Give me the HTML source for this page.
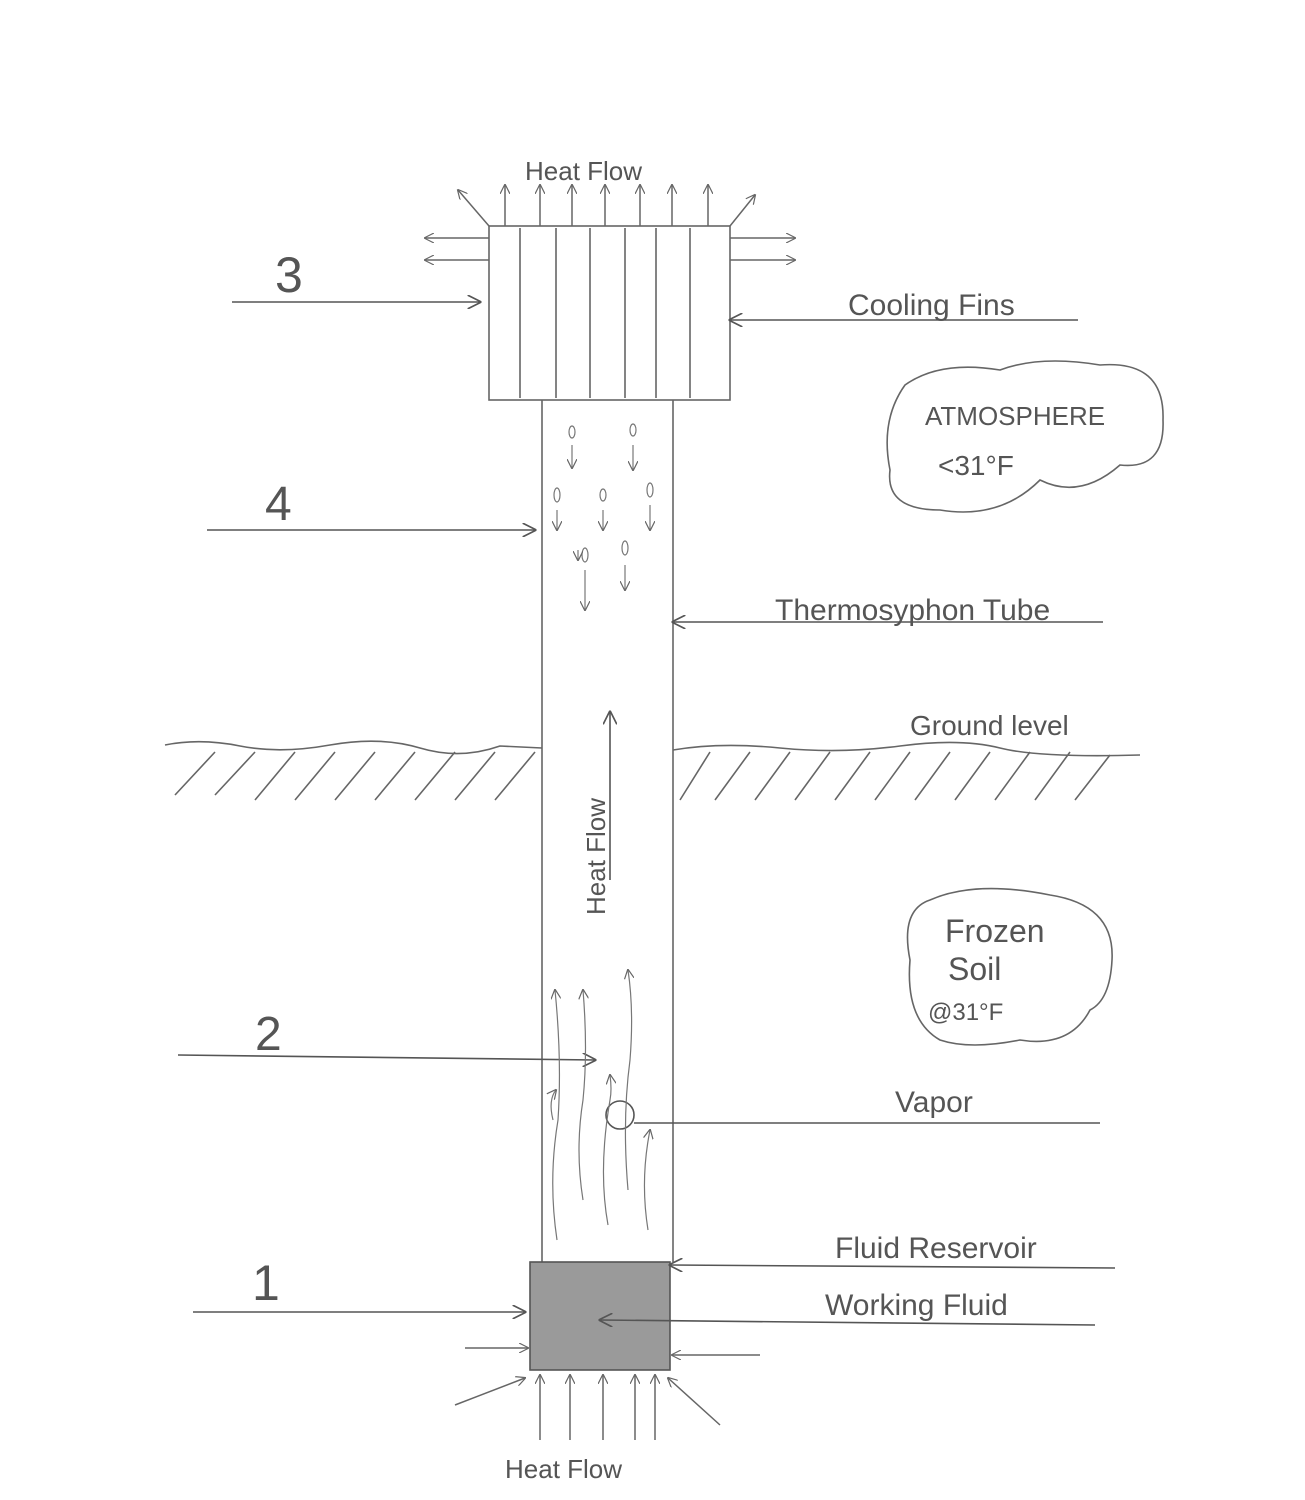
<!DOCTYPE html>
<html><head><meta charset="utf-8"><style>
html,body{margin:0;padding:0;background:#fff}
svg{display:block}
text{font-family:"Liberation Sans",sans-serif;fill:#555}
</style></head><body>
<svg width="1305" height="1500" viewBox="0 0 1305 1500" xmlns="http://www.w3.org/2000/svg">
<defs>
<marker id="a" viewBox="0 0 10 10" refX="9" refY="5" markerWidth="14" markerHeight="14" orient="auto" markerUnits="userSpaceOnUse"><path d="M0,0 L10,5 L0,10" fill="none" stroke="#555" stroke-width="1.2"/></marker>
<marker id="s" viewBox="0 0 10 10" refX="9" refY="5" markerWidth="10" markerHeight="10" orient="auto" markerUnits="userSpaceOnUse"><path d="M0,0 L10,5 L0,10" fill="none" stroke="#666" stroke-width="1.2"/></marker>
</defs>
<g stroke="#666" stroke-width="1.6" fill="none">
<rect x="489" y="226" width="241" height="174"/>
<path d="M520 228V398 M556 228V398 M590 228V398 M625 228V398 M656 228V398 M690 228V398"/>
<path d="M542 400V1262 M673 400V1262"/>
<rect x="530" y="1262" width="140" height="108" fill="#9a9a9a" stroke="#555"/>
<path d="M165 745 Q200 738 240 746 T330 745 T420 748 T500 746 L542 748 M673 750 Q720 742 780 748 T900 746 T1000 748 T1140 755"/>
<path d="M215 752 L175 795 M255 752 L215 795 M295 752 L255 800 M335 752 L295 800 M375 752 L335 800 M415 752 L375 800 M455 752 L415 800 M495 752 L455 800 M535 752 L495 800 M710 752 L680 800 M750 752 L715 800 M790 752 L755 800 M830 752 L795 800 M870 752 L835 800 M910 752 L875 800 M950 752 L915 800 M990 752 L955 800 M1030 752 L995 800 M1070 752 L1035 800 M1110 755 L1075 800"/>
<path d="M905 385 Q940 360 1000 370 Q1040 355 1100 365 Q1165 360 1163 420 Q1165 470 1120 465 Q1080 500 1040 480 Q1000 520 940 510 Q885 510 890 470 Q880 420 905 385Z"/>
<path d="M930 900 Q975 880 1050 895 Q1115 905 1112 960 Q1110 1000 1090 1010 Q1070 1048 1020 1040 Q970 1050 940 1040 Q905 1020 910 960 Q900 910 930 900Z"/>
</g>
<g stroke="#555" stroke-width="1.6" fill="none" marker-end="url(#a)">
<line x1="232" y1="302" x2="480" y2="302"/>
<line x1="1078" y1="320" x2="730" y2="320"/>
<line x1="207" y1="530" x2="535" y2="530"/>
<line x1="1103" y1="622" x2="673" y2="622"/>
<line x1="178" y1="1055" x2="595" y2="1060"/>
<line x1="1115" y1="1268" x2="670" y2="1265"/>
<line x1="1095" y1="1325" x2="600" y2="1320"/>
<line x1="193" y1="1312" x2="525" y2="1312"/>
<line x1="610" y1="880" x2="610" y2="712"/>
</g>
<g stroke="#555" stroke-width="1.6" fill="none">
<path d="M1100 1123H634"/>
<circle cx="620" cy="1115" r="14"/>
</g>
<g stroke="#666" stroke-width="1.5" fill="none" marker-end="url(#s)">
<line x1="505" y1="226" x2="505" y2="185"/>
<line x1="540" y1="226" x2="540" y2="185"/>
<line x1="572" y1="226" x2="572" y2="185"/>
<line x1="605" y1="226" x2="605" y2="185"/>
<line x1="640" y1="226" x2="640" y2="185"/>
<line x1="672" y1="226" x2="672" y2="185"/>
<line x1="708" y1="226" x2="708" y2="185"/>
<line x1="489" y1="226" x2="458" y2="190"/>
<line x1="730" y1="226" x2="755" y2="195"/>
<line x1="489" y1="238" x2="425" y2="238"/>
<line x1="489" y1="260" x2="425" y2="260"/>
<line x1="730" y1="238" x2="795" y2="238"/>
<line x1="730" y1="260" x2="795" y2="260"/>
<line x1="540" y1="1440" x2="540" y2="1375"/>
<line x1="570" y1="1440" x2="570" y2="1375"/>
<line x1="603" y1="1440" x2="603" y2="1375"/>
<line x1="635" y1="1440" x2="635" y2="1375"/>
<line x1="655" y1="1440" x2="655" y2="1375"/>
<line x1="455" y1="1405" x2="525" y2="1378"/>
<line x1="720" y1="1425" x2="668" y2="1378"/>
<line x1="465" y1="1348" x2="528" y2="1348"/>
<line x1="760" y1="1355" x2="672" y2="1355"/>
</g>
<g stroke="#777" stroke-width="1.2" fill="none">
<ellipse cx="572" cy="432" rx="3" ry="6"/><ellipse cx="633" cy="430" rx="3" ry="6"/>
<ellipse cx="557" cy="495" rx="3" ry="7"/><ellipse cx="603" cy="495" rx="3" ry="6"/><ellipse cx="650" cy="490" rx="3" ry="7"/>
<ellipse cx="585" cy="555" rx="3" ry="7"/><ellipse cx="625" cy="548" rx="3" ry="7"/>
</g>
<g stroke="#777" stroke-width="1.2" fill="none" marker-end="url(#s)">
<line x1="572" y1="445" x2="572" y2="468"/>
<line x1="633" y1="445" x2="633" y2="470"/>
<line x1="557" y1="510" x2="557" y2="530"/>
<line x1="603" y1="510" x2="603" y2="530"/>
<line x1="650" y1="505" x2="650" y2="530"/>
<line x1="585" y1="570" x2="585" y2="610"/>
<line x1="625" y1="565" x2="625" y2="590"/>
<line x1="578" y1="550" x2="578" y2="560"/>
<path d="M557 1240 Q548 1180 558 1120 Q562 1060 555 990"/>
<path d="M583 1200 Q575 1150 583 1100 Q588 1050 583 990"/>
<path d="M608 1225 Q598 1170 610 1100 Q612 1090 610 1075"/>
<path d="M628 1190 Q622 1120 630 1060 Q634 1010 628 970"/>
<path d="M553 1120 Q548 1100 556 1090"/>
<path d="M648 1230 Q640 1180 650 1130"/>
</g>
<g font-size="30">
<text x="525" y="180" font-size="26">Heat  Flow</text>
<text x="275" y="292" font-size="50">3</text>
<text x="848" y="315">Cooling Fins</text>
<text x="925" y="425" font-size="26">ATMOSPHERE</text>
<text x="938" y="475" font-size="28">&lt;31°F</text>
<text x="265" y="520" font-size="48">4</text>
<text x="775" y="620">Thermosyphon Tube</text>
<text x="910" y="735" font-size="28">Ground level</text>
<text transform="translate(605,915) rotate(-90)" font-size="26">Heat Flow</text>
<text x="945" y="942" font-size="32">Frozen</text>
<text x="948" y="980" font-size="32">Soil</text>
<text x="928" y="1020" font-size="24">@31°F</text>
<text x="255" y="1050" font-size="48">2</text>
<text x="895" y="1112">Vapor</text>
<text x="835" y="1258">Fluid Reservoir</text>
<text x="252" y="1300" font-size="50">1</text>
<text x="825" y="1315">Working Fluid</text>
<text x="505" y="1478" font-size="26">Heat  Flow</text>
</g>
</svg>
</body></html>
